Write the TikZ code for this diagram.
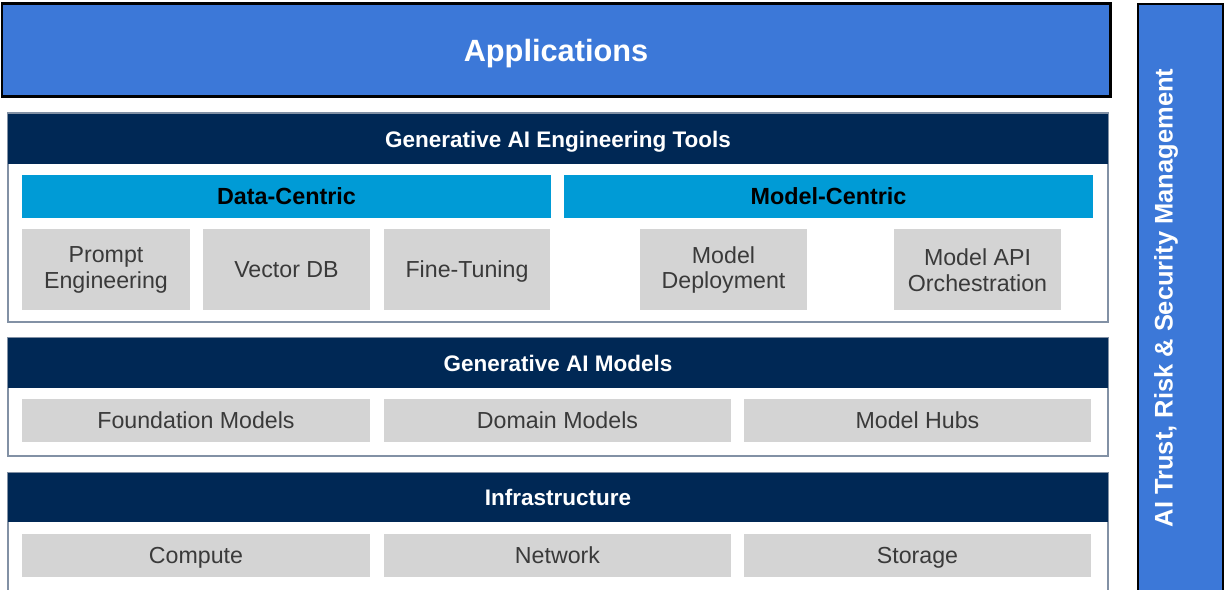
\documentclass[tikz,border=0pt]{standalone}
\usepackage{fontspec}
\setmainfont{Liberation Sans}
\definecolor{appblue}{RGB}{60,120,216}
\definecolor{navy}{RGB}{0,40,85}
\definecolor{cyanbar}{RGB}{0,155,214}
\definecolor{graybox}{RGB}{212,212,212}
\definecolor{graytext}{RGB}{58,58,58}
\definecolor{panelborder}{RGB}{130,145,165}
\tikzset{
  box/.style={inner sep=0pt, outer sep=0pt, align=center, anchor=center},
  oneline/.style={text height=#1, text depth=0pt},
  sz/.style 2 args={minimum width=#1*0.02cm, minimum height=#2*0.02cm},
  appbox/.style={box, oneline=12.5pt, fill=appblue, draw=black, line width=1.7pt, text=white, font=\fontsize{17.5}{20}\selectfont\bfseries},
  sidebar/.style={box, fill=appblue, draw=black, line width=1.1pt},
  panel/.style={box, fill=white, draw=panelborder, line width=0.8pt},
  header/.style={box, oneline=9.2pt, fill=navy, text=white, font=\fontsize{12.8}{15}\selectfont\bfseries},
  catbar/.style={box, oneline=9.5pt, fill=cyanbar, text=black, font=\fontsize{13.3}{15}\selectfont\bfseries},
  item/.style={box, fill=graybox, text=graytext, font=\fontsize{13.2}{14.6}\selectfont},
  item1/.style={item, oneline=9.5pt},
}
\begin{document}
\begin{tikzpicture}[x=0.02cm,y=-0.02cm]
\useasboundingbox (0,0) rectangle (1225,590);
% Applications
\node[appbox, sz={1108}{93}] (app) at (556,50.5) {Applications};
% side bar
\node[sidebar, sz={85}{600}] (side) at (1180.5,304) {};
\node[box, rotate=90, text=white, font=\fontsize{14.5}{16}\selectfont\bfseries] (sidetext) at (1166,298) {AI Trust, Risk \& Security Management};
% Engineering tools panel
\node[panel, sz={1100}{209}] (engpanel) at (558,217.5) {};
\node[header, sz={1100}{50}] (enghead) at (558,139) {Generative AI Engineering Tools};
\node[catbar, sz={529}{43}] (datac) at (286.5,196.5) {Data-Centric};
\node[catbar, sz={529}{43}] (modelc) at (828.5,196.5) {Model-Centric};
\node[item, sz={168}{81}] (prompt) at (106,270) {Prompt\\Engineering};
\node[item1, sz={167}{81}] (vector) at (286.5,269.5) {Vector DB};
\node[item1, sz={166}{81}] (fine) at (467,269.5) {Fine-Tuning};
\node[item, sz={167}{81}] (deploy) at (723.5,270) {Model\\Deployment};
\node[item, sz={167}{81}] (orch) at (977.5,270) {Model API\\Orchestration};
% Models panel
\node[panel, sz={1100}{118}] (modpanel) at (558,397) {};
\node[header, sz={1100}{50}] (modhead) at (558,363) {Generative AI Models};
\node[item1, sz={348}{43}] (found) at (196,420.5) {Foundation Models};
\node[item1, sz={347}{43}] (domain) at (557.5,420.5) {Domain Models};
\node[item1, sz={347}{43}] (hubs) at (917.5,420.5) {Model Hubs};
% Infrastructure panel
\node[panel, sz={1100}{130}] (infpanel) at (558,538) {};
\node[header, sz={1100}{49}] (infhead) at (558,497.5) {Infrastructure};
\node[item1, sz={348}{43}] (compute) at (196,555.5) {Compute};
\node[item1, sz={347}{43}] (network) at (557.5,555.5) {Network};
\node[item1, sz={347}{43}] (storage) at (917.5,555.5) {Storage};
\end{tikzpicture}
\end{document}
